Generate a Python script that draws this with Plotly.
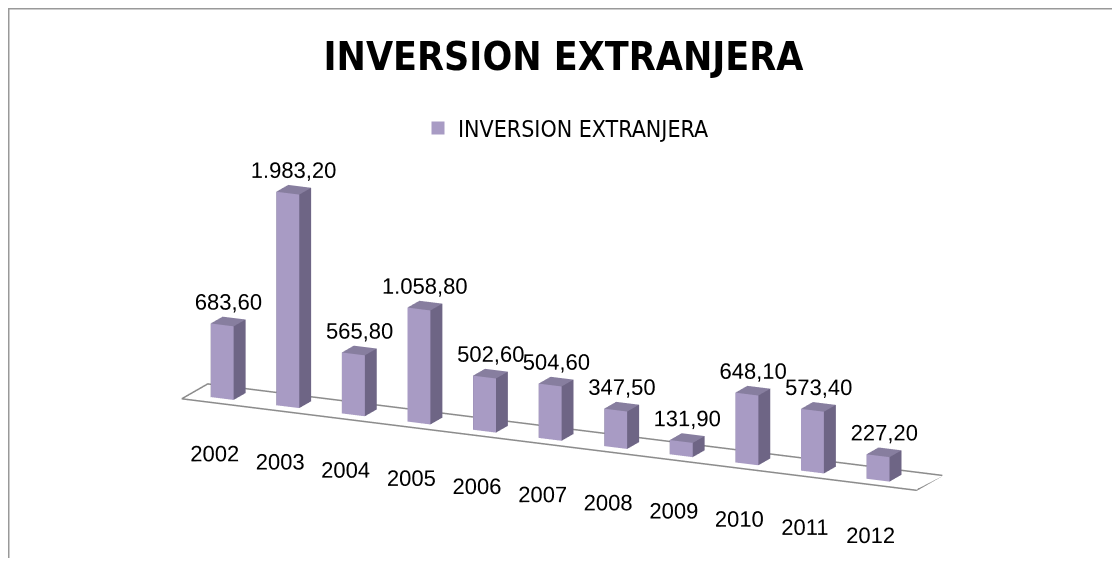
import plotly.graph_objects as go

years = ["2002", "2003", "2004", "2005", "2006", "2007", "2008", "2009", "2010", "2011", "2012"]
values = [683.60, 1983.20, 565.80, 1058.80, 502.60, 504.60, 347.50, 131.90, 648.10, 573.40, 227.20]
labels = ["683,60", "1.983,20", "565,80", "1.058,80", "502,60", "504,60", "347,50", "131,90", "648,10", "573,40", "227,20"]
series_name = "INVERSION EXTRANJERA"

FRONT = "#A89BC4"
SIDE = "#6E6585"
TOP = "#877E9F"

bw = 0.35
y0b, y1b = 0.25, 0.64

X, Y, Z, I, J, K, FC = [], [], [], [], [], [], []
for i, v in enumerate(values):
    xa, xb = i - bw / 2, i + bw / 2
    base = len(X)
    verts = [(xa, y0b, 0), (xb, y0b, 0), (xb, y1b, 0), (xa, y1b, 0),
             (xa, y0b, v), (xb, y0b, v), (xb, y1b, v), (xa, y1b, v)]
    for (a, b, c) in verts:
        X.append(a); Y.append(b); Z.append(c)
    faces = [
        ((0, 1, 5), FRONT), ((0, 5, 4), FRONT),
        ((1, 2, 6), SIDE), ((1, 6, 5), SIDE),
        ((4, 5, 6), TOP), ((4, 6, 7), TOP),
        ((3, 0, 4), SIDE), ((3, 4, 7), SIDE),
        ((2, 3, 7), SIDE), ((2, 7, 6), SIDE),
        ((0, 1, 2), SIDE), ((0, 2, 3), SIDE),
    ]
    for (a, b, c), col in faces:
        I.append(base + a); J.append(base + b); K.append(base + c); FC.append(col)

n = len(values)
fig = go.Figure()
fig.add_trace(go.Mesh3d(x=X, y=Y, z=Z, i=I, j=J, k=K, facecolor=FC, flatshading=True,
                        lighting=dict(ambient=1, diffuse=0, specular=0, roughness=1, fresnel=0),
                        hoverinfo="skip", showlegend=False))

fx = [-0.5, n - 0.3, n - 0.3, -0.5, -0.5]
fy = [0, 0, 0.85, 0.85, 0]
fz = [0, 0, 0, 0, 0]
fig.add_trace(go.Scatter3d(x=fx, y=fy, z=fz, mode="lines", line=dict(color="#8C8C8C", width=3),
                           hoverinfo="skip", showlegend=False))

fig.add_trace(go.Scatter3d(x=list(range(n)), y=[0.45] * n, z=[v + 170 for v in values], mode="text",
                           text=labels, textposition="middle center",
                           textfont=dict(family="Liberation Sans", size=22, color="#000000"),
                           hoverinfo="skip", showlegend=False))
fig.add_trace(go.Scatter3d(x=list(range(n)), y=[0.0] * n, z=[-470] * n, mode="text",
                           text=years, textposition="middle center",
                           textfont=dict(family="Liberation Sans", size=22, color="#000000"),
                           hoverinfo="skip", showlegend=False))

fig.add_trace(go.Scatter(x=[None], y=[None], mode="markers", name=series_name,
                         marker=dict(symbol="square", size=13, color=FRONT)))

ax = dict(visible=False, showbackground=False, showgrid=False, zeroline=False, showspikes=False)
W, H = 1106, 550
fig.update_layout(
    width=W, height=H,
    margin=dict(l=0, r=0, t=0, b=0),
    paper_bgcolor="white", plot_bgcolor="white",
    title=dict(text="<b>INVERSION EXTRANJERA</b>", x=(563.5 - 8) / W, xanchor="center", y=1 - 48 / H,
               yanchor="middle", yref="container",
               font=dict(family="DejaVu Sans Condensed, sans-serif", size=39, color="#000000")),
    showlegend=True,
    legend=dict(orientation="h", x=(566 - 8) / W, xanchor="center", y=1 - 120 / H, yanchor="middle",
                font=dict(family="DejaVu Sans Condensed, sans-serif", size=23, color="#000000"),
                bgcolor="rgba(0,0,0,0)", itemclick=False, itemdoubleclick=False),
    xaxis=dict(visible=False), yaxis=dict(visible=False),
    scene=dict(
        domain=dict(x=[0.0, 1.0], y=[0.0, 1.0]),
        xaxis=dict(ax, range=[-0.7, n - 0.3]),
        yaxis=dict(ax, range=[0, 1]),
        zaxis=dict(ax, range=[-650, 2250]),
        aspectmode="manual",
        aspectratio=dict(x=3.0, y=0.263, z=1.178),
        camera=dict(eye=dict(x=1.149, y=-2.436, z=0.995), center=dict(x=0.013, y=0, z=0.25),
                    up=dict(x=0, y=0, z=1), projection=dict(type="orthographic")),
        bgcolor="rgba(0,0,0,0)",
    ),
    shapes=[dict(type="rect", xref="paper", yref="paper", x0=0.5 / W, x1=1 - 0.5 / W,
                 y0=-0.03, y1=1 - 0.5 / H, line=dict(color="#999999", width=2))],
)

fig.write_html("out.html")
